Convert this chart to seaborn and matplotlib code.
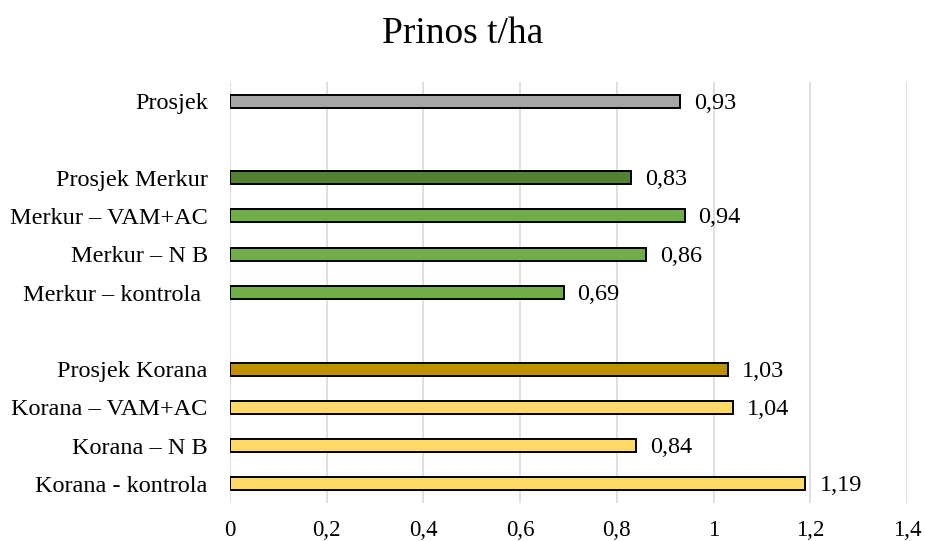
import matplotlib
matplotlib.use("Agg")
import matplotlib.pyplot as plt
import seaborn as sns
import pandas as pd
import numpy as np

categories = ["Prosjek", " ", "Prosjek Merkur", "Merkur – VAM+AC", "Merkur – N B",
              "Merkur – kontrola ", "  ", "Prosjek Korana", "Korana – VAM+AC",
              "Korana – N B", "Korana - kontrola"]
values = [0.93, np.nan, 0.83, 0.94, 0.86, 0.69, np.nan, 1.03, 1.04, 0.84, 1.19]
colors = ["#A6A6A6", "#FFFFFF", "#548235", "#70AD47", "#70AD47", "#70AD47",
          "#FFFFFF", "#BF9000", "#FFD966", "#FFD966", "#FFD966"]
xticks = [0, 0.2, 0.4, 0.6, 0.8, 1.0, 1.2, 1.4]
xtick_labels = ["0", "0,2", "0,4", "0,6", "0,8", "1", "1,2", "1,4"]
title = "Prinos t/ha"

sns.set_theme(style="white")
plt.rcParams['font.family'] = ['Liberation Serif', 'DejaVu Serif']
plt.rcParams['text.color'] = 'black'
plt.rcParams['xtick.color'] = 'black'
plt.rcParams['ytick.color'] = 'black'

df = pd.DataFrame({"cat": categories, "val": values})

fig = plt.figure(figsize=(9.25, 5.41), dpi=100)
ax = fig.add_axes([0.2486, 0.0702, 0.7319, 0.7782])

sns.barplot(data=df, y="cat", x="val", hue="cat", order=categories, hue_order=categories,
            palette=dict(zip(categories, colors)), orient="h", width=0.34, saturation=1,
            edgecolor="black", linewidth=1.4, legend=False, ax=ax, zorder=3)

ax.set_xlim(0, 1.4)
ax.set_ylim(len(categories) - 0.5, -0.5)
ax.set_xticks(xticks)
ax.set_xticklabels(xtick_labels, fontsize=16.5)
ax.tick_params(axis="y", labelsize=17.5, length=0, pad=16, labelcolor="black")
ax.tick_params(axis="x", length=0, pad=12, labelcolor="black")
ax.set_xlabel("")
ax.set_ylabel("")
for s in ax.spines.values():
    s.set_visible(False)
ax.grid(axis="x", color="#D9D9D9", linewidth=1.2, zorder=0)
ax.set_axisbelow(True)

for i, v in enumerate(values):
    if not np.isnan(v):
        ax.annotate(f"{v:.2f}".replace(".", ","), xy=(v, i), xytext=(14, -2),
                    textcoords="offset pixels", va="center", ha="left", fontsize=17.5,
                    color="black")

fig.suptitle(title, fontsize=27, y=0.97, color="black")
fig.savefig("out.png", dpi=100)
